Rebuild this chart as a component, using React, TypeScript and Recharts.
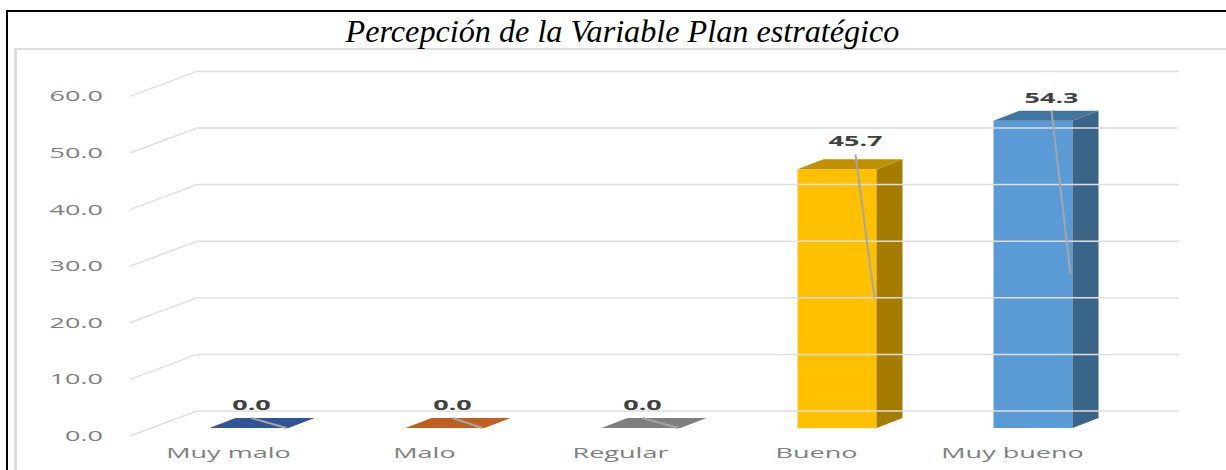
import React from "react";
import { BarChart, Bar, XAxis, YAxis, ReferenceLine, LabelList } from "recharts";

const categories = ["Muy malo", "Malo", "Regular", "Bueno", "Muy bueno"];
const values = [0.0, 0.0, 0.0, 45.7, 54.3];
const yTicks = [0, 10, 20, 30, 40, 50, 60];
const frontColors = ["#4472C4", "#ED7D31", "#A5A5A5", "#FFC000", "#5B9BD5"];
const topColors = ["#2F5597", "#BE5F1F", "#7F7F7F", "#BF9000", "#44759F"];
const sideColors = ["#264478", "#9E480E", "#636363", "#A67C00", "#3A6488"];

// label placement relative to each bar's top-left corner
const labelLift = [23, 23, 23, 28, 23];
const labelShift = [42, 47, 41, 58, 58];

const rows = categories.map((name, i) => ({ name, value: values[i], idx: i }));

const DEPTH_X = 26;
const DEPTH_Y = 10;
const STRETCH = 1.93;

const Bar3D = (props: any) => {
  const { x, y, width, height, index } = props;
  const top = `${x},${y} ${x + DEPTH_X},${y - DEPTH_Y} ${x + width + DEPTH_X},${y - DEPTH_Y} ${x + width},${y}`;
  const side = `${x + width},${y} ${x + width + DEPTH_X},${y - DEPTH_Y} ${x + width + DEPTH_X},${y + height - DEPTH_Y} ${x + width},${y + height}`;
  return (
    <g>
      {height > 0 && <rect x={x} y={y} width={width} height={height} fill={frontColors[index]} />}
      {height > 0 && <polygon points={side} fill={sideColors[index]} />}
      <polygon points={top} fill={topColors[index]} />
    </g>
  );
};

const ValueLabel = (props: any) => {
  const { x, y, height, value, index } = props;
  const lx = x + labelShift[index];
  const ly = y - labelLift[index];
  return (
    <g>
      <line x1={lx} y1={ly + 13} x2={x + 77} y2={y + height / 2} stroke="#A6A6A6" strokeWidth={2} />
      <text
        transform={`translate(${lx},${ly + 5}) scale(${STRETCH},1)`}
        textAnchor="middle"
        fontFamily="'Open Sans', sans-serif"
        fontWeight={700}
        fontSize={14}
        fill="#404040"
      >
        {Number(value).toFixed(1)}
      </text>
    </g>
  );
};

const YTick = (props: any) => {
  const { y, payload } = props;
  return (
    <text
      transform={`translate(103,${y + 13}) scale(${STRETCH},1)`}
      textAnchor="end"
      fontFamily="'Open Sans', sans-serif"
      fontSize={14}
      fill="#7F7F7F"
    >
      {Number(payload.value).toFixed(1)}
    </text>
  );
};

const XTick = (props: any) => {
  const { x, payload } = props;
  return (
    <text
      transform={`translate(${x - 20},458) scale(${STRETCH},1)`}
      textAnchor="middle"
      fontFamily="'Open Sans', sans-serif"
      fontSize={14}
      fill="#7F7F7F"
    >
      {payload.value}
    </text>
  );
};

const GridShape = (props: any) => {
  const y = props.y1;
  return (
    <polyline
      points={`130,${y + 8} 197,${y - 17} 1179,${y - 17}`}
      fill="none"
      stroke="#DEDEDE"
      strokeWidth={1.5}
    />
  );
};

export default function App() {
  return (
    <div style={{ position: "absolute", left: 0, top: 0, width: 1226, height: 470, overflow: "hidden", background: "#fff" }}>
      <div style={{ position: "absolute", left: 6, top: 10, width: 1220, height: 2, background: "#000" }} />
      <div style={{ position: "absolute", left: 6, top: 10, width: 2, height: 460, background: "#000" }} />
      <div style={{ position: "absolute", left: 14, top: 48, width: 1212, height: 2, background: "#DEDEDE" }} />
      <div style={{ position: "absolute", left: 14, top: 48, width: 3, height: 422, background: "#DEDEDE" }} />
      <div
        style={{
          position: "absolute",
          left: 0,
          top: 13,
          width: 1245,
          textAlign: "center",
          fontFamily: "'Liberation Serif', serif",
          fontStyle: "italic",
          fontSize: 32.2,
          lineHeight: "36px",
          color: "#000",
        }}
      >
        Percepción de la Variable Plan estratégico
      </div>
      <div style={{ position: "absolute", left: 0, top: 0 }}>
        <BarChart
          width={1226}
          height={470}
          data={rows}
          margin={{ top: 88.4, right: 95.5, bottom: 12, left: 0 }}
          barSize={79}
        >
          <XAxis dataKey="name" height={30} axisLine={false} tickLine={false} tick={<XTick />} interval={0} />
          <YAxis
            width={150.5}
            domain={[0, 60]}
            ticks={yTicks}
            axisLine={false}
            tickLine={false}
            tick={<YTick />}
            interval={0}
          />
          {yTicks.map((t) => (
            <ReferenceLine key={t} y={t} shape={<GridShape />} />
          ))}
          <Bar dataKey="value" shape={<Bar3D />} isAnimationActive={false}>
            <LabelList dataKey="value" content={<ValueLabel />} />
          </Bar>
        </BarChart>
      </div>
    </div>
  );
}
